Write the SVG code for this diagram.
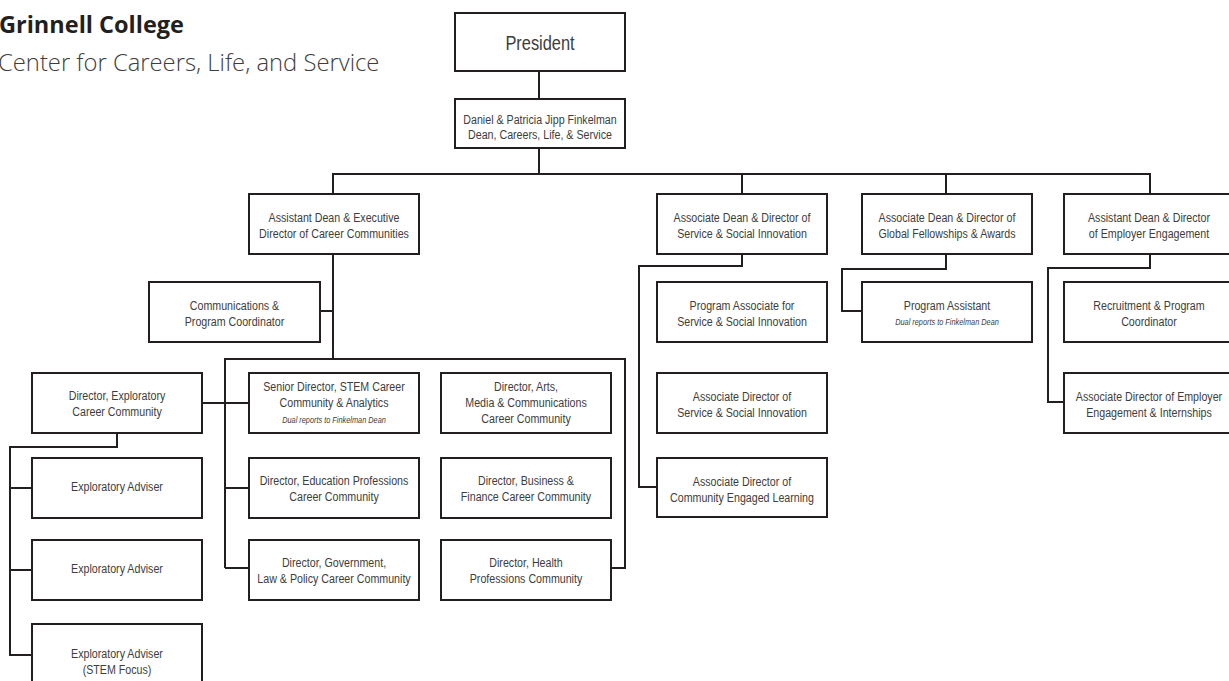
<svg xmlns="http://www.w3.org/2000/svg" width="1229" height="681" viewBox="0 0 1229 681">
<style>
.bg{fill:#fff}
.box{fill:#fff;stroke:#231f20;stroke-width:2}
.c{fill:none;stroke:#231f20;stroke-width:2}
.t{font-family:"Liberation Sans",Arial,sans-serif;font-size:13.5px;fill:#3d3d3d;text-anchor:middle}
.i{font-style:italic;font-size:9.3px}
.h1{font-family:"Open Sans","Noto Sans",sans-serif;font-weight:bold;font-size:23.5px;fill:#231f20}
.h2{font-family:"Open Sans","Noto Sans",sans-serif;font-weight:300;font-size:23.8px;fill:#3d3d3d}
</style>
<rect class="bg" x="0" y="0" width="1229" height="681"/>
<g id="title">
<text class="h1" x="-1" y="33">Grinnell College</text>
<text class="h2" x="-2" y="71">Center for Careers, Life, and Service</text>
</g>
<g id="connectors">
<path class="c" d="M539 71V99"/>
<path class="c" d="M539 148V174"/>
<path class="c" d="M333 194V174H1150V194"/>
<path class="c" d="M742 174V194"/>
<path class="c" d="M946 174V194"/>
<path class="c" d="M333 254V359"/>
<path class="c" d="M320 311H333"/>
<path class="c" d="M225 568V359H625V568H611"/>
<path class="c" d="M202 403H249"/>
<path class="c" d="M225 488H249"/>
<path class="c" d="M225 568H249"/>
<path class="c" d="M117 433V447H10V655H32"/>
<path class="c" d="M10 488H32"/>
<path class="c" d="M10 570H32"/>
<path class="c" d="M742 253V266H639V487H657"/>
<path class="c" d="M946 253V269H842V311H862"/>
<path class="c" d="M1150 253V268H1048V402H1064"/>
</g>
<g id="president"><rect class="box" x="455" y="13" width="170" height="58"/><text class="t" transform="translate(540 0) scale(0.8 1)" y="50" style="font-size:20.5px">President</text></g>
<g id="dean"><rect class="box" x="455" y="99" width="170" height="49"/><text class="t" transform="translate(540 0) scale(0.79 1)" y="124">Daniel &amp; Patricia Jipp Finkelman</text><text class="t" transform="translate(540 0) scale(0.79 1)" y="139">Dean, Careers, Life, &amp; Service</text></g>
<g id="asst-dean-cc"><rect class="box" x="249" y="194" width="170" height="60"/><text class="t" transform="translate(334 0) scale(0.79 1)" y="222">Assistant Dean &amp; Executive</text><text class="t" transform="translate(334 0) scale(0.79 1)" y="238">Director of Career Communities</text></g>
<g id="comms"><rect class="box" x="149" y="282" width="171" height="60"/><text class="t" transform="translate(234.5 0) scale(0.79 1)" y="310">Communications &amp;</text><text class="t" transform="translate(234.5 0) scale(0.79 1)" y="326">Program Coordinator</text></g>
<g id="assoc-dean-service"><rect class="box" x="657" y="194" width="170" height="60"/><text class="t" transform="translate(742 0) scale(0.79 1)" y="222">Associate Dean &amp; Director of</text><text class="t" transform="translate(742 0) scale(0.79 1)" y="238">Service &amp; Social Innovation</text></g>
<g id="assoc-dean-global"><rect class="box" x="862" y="194" width="170" height="60"/><text class="t" transform="translate(947 0) scale(0.79 1)" y="222">Associate Dean &amp; Director of</text><text class="t" transform="translate(947 0) scale(0.79 1)" y="238">Global Fellowships &amp; Awards</text></g>
<g id="asst-dean-employer"><rect class="box" x="1064" y="194" width="170" height="60"/><text class="t" transform="translate(1149 0) scale(0.79 1)" y="222">Assistant Dean &amp; Director</text><text class="t" transform="translate(1149 0) scale(0.79 1)" y="238">of Employer Engagement</text></g>
<g id="prog-assoc-service"><rect class="box" x="657" y="282" width="170" height="60"/><text class="t" transform="translate(742 0) scale(0.79 1)" y="310">Program Associate for</text><text class="t" transform="translate(742 0) scale(0.79 1)" y="326">Service &amp; Social Innovation</text></g>
<g id="prog-assistant"><rect class="box" x="862" y="282" width="170" height="60"/><text class="t" transform="translate(947 0) scale(0.79 1)" y="310">Program Assistant</text><text class="t i" transform="translate(947 0) scale(0.79 1)" y="325">Dual reports to Finkelman Dean</text></g>
<g id="recruitment"><rect class="box" x="1064" y="282" width="170" height="60"/><text class="t" transform="translate(1149 0) scale(0.79 1)" y="310">Recruitment &amp; Program</text><text class="t" transform="translate(1149 0) scale(0.79 1)" y="326">Coordinator</text></g>
<g id="assoc-dir-service"><rect class="box" x="657" y="373" width="170" height="60"/><text class="t" transform="translate(742 0) scale(0.79 1)" y="401">Associate Director of</text><text class="t" transform="translate(742 0) scale(0.79 1)" y="417">Service &amp; Social Innovation</text></g>
<g id="assoc-dir-cel"><rect class="box" x="657" y="458" width="170" height="59"/><text class="t" transform="translate(742 0) scale(0.79 1)" y="486">Associate Director of</text><text class="t" transform="translate(742 0) scale(0.79 1)" y="502">Community Engaged Learning</text></g>
<g id="assoc-dir-employer"><rect class="box" x="1064" y="373" width="170" height="60"/><text class="t" transform="translate(1149 0) scale(0.79 1)" y="401">Associate Director of Employer</text><text class="t" transform="translate(1149 0) scale(0.79 1)" y="417">Engagement &amp; Internships</text></g>
<g id="dir-exploratory"><rect class="box" x="32" y="373" width="170" height="60"/><text class="t" transform="translate(117 0) scale(0.79 1)" y="400">Director, Exploratory</text><text class="t" transform="translate(117 0) scale(0.79 1)" y="416">Career Community</text></g>
<g id="senior-stem"><rect class="box" x="249" y="373" width="170" height="60"/><text class="t" transform="translate(334 0) scale(0.79 1)" y="391">Senior Director, STEM Career</text><text class="t" transform="translate(334 0) scale(0.79 1)" y="407">Community &amp; Analytics</text><text class="t i" transform="translate(334 0) scale(0.79 1)" y="423">Dual reports to Finkelman Dean</text></g>
<g id="arts"><rect class="box" x="441" y="373" width="170" height="60"/><text class="t" transform="translate(526 0) scale(0.79 1)" y="391">Director, Arts,</text><text class="t" transform="translate(526 0) scale(0.79 1)" y="407">Media &amp; Communications</text><text class="t" transform="translate(526 0) scale(0.79 1)" y="423">Career Community</text></g>
<g id="education"><rect class="box" x="249" y="458" width="170" height="60"/><text class="t" transform="translate(334 0) scale(0.79 1)" y="485">Director, Education Professions</text><text class="t" transform="translate(334 0) scale(0.79 1)" y="501">Career Community</text></g>
<g id="business"><rect class="box" x="441" y="458" width="170" height="60"/><text class="t" transform="translate(526 0) scale(0.79 1)" y="485">Director, Business &amp;</text><text class="t" transform="translate(526 0) scale(0.79 1)" y="501">Finance Career Community</text></g>
<g id="government"><rect class="box" x="249" y="540" width="170" height="60"/><text class="t" transform="translate(334 0) scale(0.79 1)" y="567">Director, Government,</text><text class="t" transform="translate(334 0) scale(0.79 1)" y="583">Law &amp; Policy Career Community</text></g>
<g id="health"><rect class="box" x="441" y="540" width="170" height="60"/><text class="t" transform="translate(526 0) scale(0.79 1)" y="567">Director, Health</text><text class="t" transform="translate(526 0) scale(0.79 1)" y="583">Professions Community</text></g>
<g id="adviser-1"><rect class="box" x="32" y="458" width="170" height="60"/><text class="t" transform="translate(117 0) scale(0.79 1)" y="491">Exploratory Adviser</text></g>
<g id="adviser-2"><rect class="box" x="32" y="540" width="170" height="60"/><text class="t" transform="translate(117 0) scale(0.79 1)" y="573">Exploratory Adviser</text></g>
<g id="adviser-3"><rect class="box" x="32" y="624" width="170" height="72"/><text class="t" transform="translate(117 0) scale(0.79 1)" y="658">Exploratory Adviser</text><text class="t" transform="translate(117 0) scale(0.79 1)" y="674">(STEM Focus)</text></g>
</svg>
